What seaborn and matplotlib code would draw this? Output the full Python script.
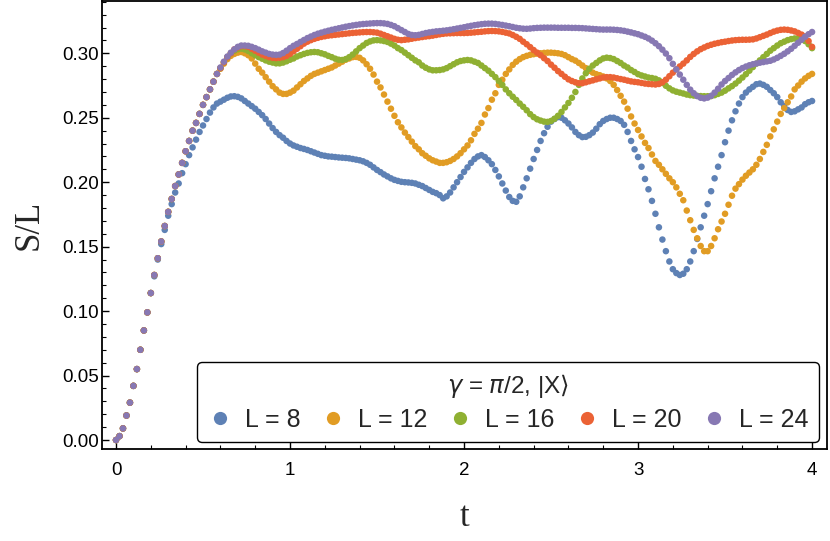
import numpy as np
import pandas as pd
import matplotlib
matplotlib.use('Agg')
import matplotlib.pyplot as plt
from matplotlib.lines import Line2D
from matplotlib.ticker import MultipleLocator, FormatStrFormatter
import seaborn as sns

# time grid, step 0.02 from 0 to 4
t = np.round(np.arange(201) * 0.02, 2)

# common early growth (t = 0.00 ... 0.58), shared by L = 12..24
rise = [0.000, 0.003, 0.009, 0.019, 0.029, 0.042, 0.055, 0.070, 0.085, 0.099,
        0.114, 0.128, 0.141, 0.154, 0.166, 0.177, 0.187, 0.197, 0.206, 0.215,
        0.224, 0.232, 0.240, 0.246, 0.253, 0.260, 0.266, 0.272, 0.278, 0.284]

# L = 8, full series (t = 0.00 ... 4.00)
s_L8 = [0.000, 0.003, 0.009, 0.019, 0.029, 0.042, 0.055, 0.070, 0.085, 0.099,
        0.114, 0.127, 0.140, 0.152, 0.163, 0.174, 0.183, 0.192, 0.199, 0.207,
        0.214, 0.221, 0.227, 0.233, 0.239, 0.244, 0.249, 0.254, 0.258, 0.261,
        0.2625, 0.264, 0.2655, 0.2665, 0.2667, 0.2662, 0.265, 0.263, 0.261, 0.259,
        0.257, 0.2545, 0.252, 0.249, 0.2455, 0.242, 0.239, 0.2365, 0.2345, 0.232,
        0.230, 0.2285, 0.2275, 0.2265, 0.2258, 0.225, 0.224, 0.223, 0.222, 0.221,
        0.2205, 0.220, 0.2198, 0.2195, 0.2192, 0.219, 0.2188, 0.2185, 0.218, 0.2175,
        0.217, 0.2162, 0.215, 0.2135, 0.2115, 0.2095, 0.2078, 0.206, 0.2045, 0.203,
        0.2018, 0.201, 0.2003, 0.200, 0.1998, 0.1995, 0.199, 0.198, 0.197, 0.1955,
        0.194, 0.1925, 0.1915, 0.190, 0.1875, 0.189, 0.192, 0.196, 0.200, 0.204,
        0.208, 0.2115, 0.215, 0.218, 0.220, 0.221, 0.2195, 0.217, 0.214, 0.2095,
        0.2045, 0.199, 0.1935, 0.1885, 0.1855, 0.1848, 0.189, 0.196, 0.203, 0.2105,
        0.218, 0.225, 0.232, 0.238, 0.243, 0.247, 0.249, 0.2505, 0.250, 0.248,
        0.2455, 0.2425, 0.239, 0.2365, 0.235, 0.2352, 0.2365, 0.2385, 0.2415, 0.245,
        0.2475, 0.249, 0.250, 0.250, 0.249, 0.2475, 0.2445, 0.239, 0.232, 0.2255,
        0.2195, 0.212, 0.2025, 0.1945, 0.1855, 0.1755, 0.165, 0.1555, 0.1465, 0.1385,
        0.1325, 0.1295, 0.128, 0.129, 0.1325, 0.1385, 0.1465, 0.156, 0.165, 0.174,
        0.183, 0.193, 0.203, 0.212, 0.221, 0.231, 0.240, 0.248, 0.255, 0.261,
        0.266, 0.2695, 0.272, 0.274, 0.276, 0.2765, 0.2755, 0.274, 0.2715, 0.269,
        0.266, 0.262, 0.259, 0.256, 0.2545, 0.255, 0.2565, 0.258, 0.2605, 0.262,
        0.263]

# the other sizes after the common growth (t = 0.60 ... 4.00)
tail_L12 = [0.288, 0.292, 0.2955, 0.298, 0.2995, 0.3005, 0.301, 0.300, 0.2985, 0.296,
            0.292, 0.288, 0.285, 0.2815, 0.278, 0.2745, 0.272, 0.2695, 0.2685, 0.2685,
            0.2695, 0.271, 0.2735, 0.276, 0.2785, 0.2805, 0.2825, 0.284, 0.285, 0.286,
            0.287, 0.288, 0.289, 0.2905, 0.292, 0.2935, 0.295, 0.296, 0.297, 0.2972,
            0.2965, 0.2945, 0.2915, 0.288, 0.2835, 0.278, 0.2735, 0.268, 0.2625, 0.257,
            0.2515, 0.2465, 0.2425, 0.2385, 0.235, 0.2315, 0.228, 0.2255, 0.2225, 0.2205,
            0.2185, 0.217, 0.216, 0.215, 0.215, 0.2155, 0.2165, 0.218, 0.220, 0.2225,
            0.2255, 0.2285, 0.2325, 0.2375, 0.2415, 0.246, 0.2525, 0.2575, 0.264, 0.269,
            0.2755, 0.2795, 0.284, 0.2875, 0.291, 0.2935, 0.2955, 0.297, 0.298, 0.2988,
            0.2993, 0.2997, 0.300, 0.3003, 0.3005, 0.3005, 0.3003, 0.300, 0.2995, 0.2985,
            0.297, 0.2955, 0.2943, 0.2925, 0.2905, 0.2885, 0.2865, 0.285, 0.2838, 0.283,
            0.282, 0.2805, 0.2785, 0.2755, 0.2715, 0.267, 0.2625, 0.257, 0.251, 0.2455,
            0.2405, 0.2355, 0.2305, 0.2265, 0.2215, 0.2165, 0.2135, 0.210, 0.2065, 0.203,
            0.200, 0.196, 0.191, 0.186, 0.178, 0.1705, 0.163, 0.1565, 0.1505, 0.1465,
            0.1465, 0.1505, 0.1565, 0.1635, 0.1695, 0.1755, 0.1825, 0.1895, 0.195, 0.1985,
            0.202, 0.205, 0.2075, 0.210, 0.2135, 0.218, 0.2235, 0.229, 0.2355, 0.241,
            0.247, 0.253, 0.2575, 0.262, 0.2665, 0.272, 0.275, 0.278, 0.2805, 0.2825,
            0.284]

tail_L16 = [0.2885, 0.293, 0.297, 0.300, 0.302, 0.3032, 0.3036, 0.303, 0.3018, 0.300,
            0.2985, 0.297, 0.2958, 0.2945, 0.2935, 0.2928, 0.2922, 0.2922, 0.2928, 0.2938,
            0.295, 0.296, 0.2975, 0.2985, 0.2995, 0.3003, 0.3008, 0.301, 0.3008, 0.300,
            0.2992, 0.298, 0.297, 0.2958, 0.295, 0.2948, 0.2955, 0.297, 0.299, 0.3015,
            0.304, 0.306, 0.308, 0.3092, 0.310, 0.3102, 0.310, 0.3095, 0.3088, 0.3075,
            0.306, 0.304, 0.3025, 0.3005, 0.2985, 0.2965, 0.2945, 0.293, 0.2905, 0.2888,
            0.2875, 0.2868, 0.2868, 0.287, 0.2875, 0.2885, 0.290, 0.2915, 0.293, 0.294,
            0.2945, 0.2948, 0.2945, 0.2935, 0.2925, 0.2905, 0.2885, 0.2865, 0.284, 0.2815,
            0.2785, 0.2755, 0.272, 0.269, 0.2663, 0.2638, 0.261, 0.2585, 0.2558, 0.2528,
            0.2505, 0.2488, 0.2478, 0.247, 0.2468, 0.2475, 0.2492, 0.2515, 0.2545, 0.258,
            0.2615, 0.2655, 0.270, 0.2755, 0.2805, 0.2845, 0.288, 0.2905, 0.2925, 0.2945,
            0.296, 0.2966, 0.2963, 0.2955, 0.294, 0.2925, 0.2905, 0.289, 0.287, 0.2855,
            0.2838, 0.2828, 0.282, 0.2812, 0.2808, 0.2802, 0.279, 0.277, 0.2748, 0.2728,
            0.2712, 0.2702, 0.2695, 0.2688, 0.268, 0.2675, 0.2672, 0.267, 0.2668, 0.2667,
            0.2667, 0.2668, 0.2675, 0.2685, 0.2695, 0.271, 0.2728, 0.2745, 0.2765, 0.2788,
            0.2812, 0.2838, 0.2865, 0.2893, 0.292, 0.2945, 0.297, 0.2995, 0.302, 0.304,
            0.306, 0.3078, 0.309, 0.3102, 0.311, 0.3115, 0.3115, 0.311, 0.3095, 0.307,
            0.304]

tail_L20 = [0.2885, 0.293, 0.297, 0.300, 0.303, 0.3045, 0.3055, 0.3055, 0.305, 0.3035,
            0.302, 0.3005, 0.299, 0.298, 0.297, 0.2965, 0.2963, 0.2965, 0.297, 0.298,
            0.2995, 0.3015, 0.3035, 0.3055, 0.3075, 0.309, 0.3102, 0.3112, 0.312, 0.3127,
            0.3132, 0.3137, 0.314, 0.3143, 0.3146, 0.3149, 0.3152, 0.3155, 0.3158, 0.316,
            0.3162, 0.3164, 0.3165, 0.3165, 0.3163, 0.316, 0.3152, 0.3142, 0.3132, 0.3122,
            0.3112, 0.3105, 0.3102, 0.3105, 0.3108, 0.3113, 0.3118, 0.3122, 0.3126, 0.313,
            0.3133, 0.3137, 0.3142, 0.3147, 0.3151, 0.3154, 0.3155, 0.3156, 0.3157, 0.3157,
            0.3157, 0.3158, 0.316, 0.3162, 0.3165, 0.3167, 0.317, 0.3172, 0.3173, 0.3172,
            0.317, 0.3166, 0.316, 0.3154, 0.3142, 0.3128, 0.3112, 0.309, 0.307, 0.3048,
            0.3025, 0.3005, 0.2985, 0.2962, 0.294, 0.2912, 0.2888, 0.2862, 0.284, 0.2818,
            0.2798, 0.2785, 0.2775, 0.2768, 0.2768, 0.2775, 0.2783, 0.279, 0.2798, 0.2805,
            0.2812, 0.2815, 0.2815, 0.2812, 0.2806, 0.280, 0.2795, 0.2788, 0.2782, 0.2778,
            0.2775, 0.277, 0.2765, 0.2762, 0.276, 0.2758, 0.2762, 0.2775, 0.2795, 0.2822,
            0.285, 0.2875, 0.2898, 0.292, 0.2945, 0.2972, 0.2995, 0.3015, 0.3032, 0.3045,
            0.3057, 0.3066, 0.3074, 0.308, 0.3086, 0.309, 0.3095, 0.3099, 0.3102, 0.3104,
            0.3105, 0.3105, 0.3106, 0.3108, 0.3115, 0.3125, 0.3135, 0.3145, 0.3157, 0.3168,
            0.3176, 0.3182, 0.3184, 0.3182, 0.3177, 0.317, 0.3158, 0.3145, 0.313, 0.3095,
            0.305]

tail_L24 = [0.289, 0.2935, 0.2975, 0.3005, 0.303, 0.305, 0.306, 0.306, 0.3058, 0.305,
            0.304, 0.3028, 0.3015, 0.3005, 0.2995, 0.299, 0.2988, 0.299, 0.3002, 0.302,
            0.304, 0.3058, 0.3072, 0.3088, 0.3103, 0.3118, 0.313, 0.3142, 0.3152, 0.316,
            0.3168, 0.3175, 0.3182, 0.3188, 0.3194, 0.320, 0.3206, 0.3211, 0.3216, 0.322,
            0.3224, 0.3227, 0.3229, 0.3231, 0.3233, 0.3234, 0.3234, 0.3232, 0.3228, 0.322,
            0.321, 0.3195, 0.318, 0.3165, 0.315, 0.3142, 0.314, 0.3143, 0.315, 0.3157,
            0.3162, 0.3166, 0.317, 0.3172, 0.3175, 0.3178, 0.3182, 0.3187, 0.3192, 0.3197,
            0.3202, 0.3208, 0.3213, 0.3218, 0.3222, 0.3226, 0.3229, 0.323, 0.323, 0.3228,
            0.3224, 0.322, 0.3215, 0.321, 0.3204, 0.3198, 0.3194, 0.3191, 0.319, 0.3192,
            0.3195, 0.3197, 0.3198, 0.3199, 0.3199, 0.3199, 0.3199, 0.3198, 0.3198, 0.3198,
            0.3198, 0.3197, 0.3197, 0.3196, 0.3195, 0.3193, 0.3191, 0.3189, 0.3187, 0.3185,
            0.3184, 0.3184, 0.3184, 0.3183, 0.3181, 0.3178, 0.3174, 0.3168, 0.3162, 0.3155,
            0.3148, 0.3138, 0.3128, 0.3115, 0.3098, 0.3078, 0.3055, 0.3028, 0.2998, 0.2962,
            0.2918, 0.2875, 0.2835, 0.2795, 0.2755, 0.2718, 0.269, 0.2668, 0.2655, 0.265,
            0.2656, 0.267, 0.2695, 0.2725, 0.2758, 0.2785, 0.2808, 0.2832, 0.2852, 0.287,
            0.2885, 0.2897, 0.2907, 0.2915, 0.2921, 0.2927, 0.2932, 0.2937, 0.2942, 0.2952,
            0.2965, 0.298, 0.2996, 0.3015, 0.3035, 0.3058, 0.3082, 0.3105, 0.3128, 0.3148,
            0.3165]

sizes = [8, 12, 16, 20, 24]
labels = ['L = 8', 'L = 12', 'L = 16', 'L = 20', 'L = 24']
colors = ['#5E81B5', '#E19C24', '#8FB032', '#EB6235', '#8778B3']
legend_title = r'$\gamma$ = $\pi$/2, |X$\rangle$'

series = {8: s_L8, 12: rise + tail_L12, 16: rise + tail_L16,
          20: rise + tail_L20, 24: rise + tail_L24}
df = pd.concat([pd.DataFrame({'t': t, 'S': series[L], 'L': lab})
                for L, lab in zip(sizes, labels)], ignore_index=True)

sns.set_style('ticks')
plt.rcParams['font.family'] = ['Liberation Sans', 'DejaVu Sans']
plt.rcParams['mathtext.fontset'] = 'dejavusans'

fig = plt.figure(figsize=(8.3, 5.41), dpi=100)
ax = fig.add_axes([0.1229, 0.170, 0.8735, 0.828])

sns.scatterplot(data=df, x='t', y='S', hue='L', hue_order=labels,
                palette=colors, s=22, linewidth=0, alpha=1, ax=ax, legend=False)

ax.set_xlim(-0.0805, 4.086)
ax.set_ylim(-0.007, 0.3405)
ax.xaxis.set_major_locator(MultipleLocator(1))
ax.xaxis.set_minor_locator(MultipleLocator(0.2))
ax.yaxis.set_major_locator(MultipleLocator(0.05))
ax.yaxis.set_minor_locator(MultipleLocator(0.01))
ax.yaxis.set_major_formatter(FormatStrFormatter('%.2f'))
ax.xaxis.set_major_formatter(FormatStrFormatter('%d'))
ax.tick_params(which='both', direction='in', top=False, right=False,
               labelsize=13.5, colors='black')
ax.tick_params(axis='x', which='major', pad=9)
ax.tick_params(axis='y', which='major', pad=2)
ax.tick_params(which='major', length=5, width=1)
ax.tick_params(which='minor', length=3, width=0.8)
for sp in ax.spines.values():
    sp.set_visible(True)
    sp.set_linewidth(1.3)
    sp.set_color('black')

ax.set_xlabel('t', family='Liberation Serif', fontsize=25, labelpad=16)
ax.set_ylabel('S/L', family='Liberation Serif', fontsize=25, labelpad=12)

handles = [Line2D([], [], marker='o', linestyle='', markersize=9.5,
                  markerfacecolor=c, markeredgewidth=0) for c in colors]
leg = ax.legend(handles, labels, title=legend_title, ncol=5,
                loc='lower right', bbox_to_anchor=(0.989, 0.0156),
                borderaxespad=0, fontsize=18, title_fontsize=17.5,
                frameon=True, fancybox=True, handletextpad=0.5,
                columnspacing=0.8, handlelength=1.0, borderpad=0.42,
                labelspacing=0.3)
frame = leg.get_frame()
frame.set_edgecolor('black')
frame.set_linewidth(1.0)
frame.set_facecolor('white')
frame.set_alpha(1)

fig.savefig('out.png', dpi=100)
